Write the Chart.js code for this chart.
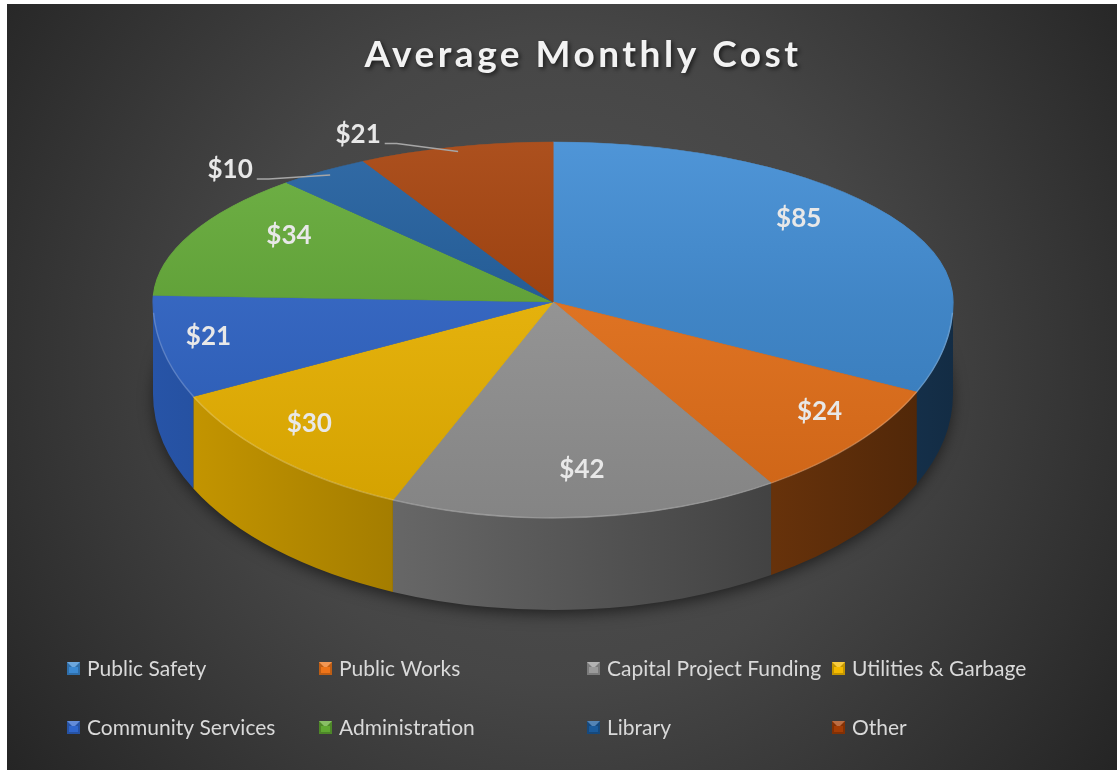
<!DOCTYPE html>
<html>
<head>
<meta charset="utf-8">
<title>Average Monthly Cost</title>
<script src="https://cdn.jsdelivr.net/npm/chart.js@4.4.1/dist/chart.umd.min.js"></script>
<style>
  html, body { margin: 0; padding: 0; background: #fff; }
  canvas { display: block; }
</style>
</head>
<body>
<canvas id="chart" width="1119" height="773"></canvas>
<script>
const chartTitle = "Average Monthly Cost";
const categories = ["Public Safety", "Public Works", "Capital Project Funding", "Utilities & Garbage",
  "Community Services", "Administration", "Library", "Other"];
const monthlyCost = [85, 24, 42, 30, 21, 34, 10, 21];
const sliceColors = ["#3b89d3", "#ee7419", "#9a9a9a", "#f5bb00", "#2f66cc", "#60a932", "#1b5b9c", "#a33c05"];

// where the tilted pie sits on the page
const PIE = { cx: 553, cy: 302, rx: 400, ryTop: 160, ryBottom: 216, depth: 92 };
const FONT = "Lato, 'Open Sans', sans-serif";

function shade(hex, f) {
  const n = parseInt(hex.slice(1), 16);
  const ch = [(n >> 16) & 255, (n >> 8) & 255, n & 255].map(c => {
    const v = f <= 1 ? c * f : c + (255 - c) * (f - 1);
    return Math.max(0, Math.min(255, Math.round(v)));
  });
  return `rgb(${ch[0]},${ch[1]},${ch[2]})`;
}

// top face colour: light at the back, a bit darker at the front
function topFill(c) {
  const col = sliceColors[c.dataIndex];
  const area = c.chart.chartArea;
  if (!area || col === undefined) return col || "#999";
  const cy = (area.top + area.bottom) / 2;
  const r = Math.min(area.right - area.left, area.bottom - area.top) / 2;
  const g = c.chart.ctx.createLinearGradient(0, cy - r, 0, cy + r);
  g.addColorStop(0, shade(col, 1.1));
  g.addColorStop(1, shade(col, 0.86));
  return g;
}

const pie3d = {
  id: "pie3d",
  beforeDraw(chart) {
    const { ctx, width, height } = chart;
    ctx.save();
    ctx.fillStyle = "#fff";
    ctx.fillRect(0, 0, width, height);
    const g = ctx.createRadialGradient(560, 360, 0, 560, 360, 720);
    g.addColorStop(0, "#525252");
    g.addColorStop(0.45, "#464646");
    g.addColorStop(1, "#222222");
    ctx.fillStyle = g;
    ctx.fillRect(7, 4, 1110, 766);
    ctx.restore();
  },
  beforeDatasetsDraw(chart) {
    const ctx = chart.ctx;
    const arcs = chart.getDatasetMeta(0).data;

    // soft shadow under the pie
    ctx.save();
    ctx.shadowColor = "rgba(0,0,0,0.6)";
    ctx.shadowBlur = 16;
    ctx.shadowOffsetY = 5;
    ctx.fillStyle = "#2c2c2c";
    ctx.beginPath();
    ctx.ellipse(PIE.cx, PIE.cy + PIE.depth, PIE.rx - 2, PIE.ryBottom - 2, 0, 0, Math.PI * 2);
    ctx.fill();
    ctx.restore();

    // side walls, only the front half shows
    arcs.forEach((arc, i) => {
      const s = Math.max(arc.startAngle, 0);
      const e = Math.min(arc.endAngle, Math.PI);
      if (e <= s) return;
      const col = sliceColors[i];
      const g = ctx.createLinearGradient(PIE.cx - PIE.rx, 0, PIE.cx + PIE.rx, 0);
      g.addColorStop(0, shade(col, 0.82));
      g.addColorStop(1, shade(col, 0.32));
      ctx.beginPath();
      ctx.ellipse(PIE.cx, PIE.cy, PIE.rx, PIE.ryBottom, 0, s, e);
      ctx.ellipse(PIE.cx, PIE.cy + PIE.depth, PIE.rx, PIE.ryBottom, 0, e, s, true);
      ctx.closePath();
      ctx.fillStyle = g;
      ctx.fill();
    });

    // top face: back half and front half squashed differently (fake perspective)
    const ref = arcs[0];
    const r = ref.outerRadius;
    [[0, PIE.cy, PIE.ryTop], [PIE.cy, chart.height - PIE.cy, PIE.ryBottom]].forEach(([y0, h, ry]) => {
      ctx.save();
      ctx.beginPath();
      ctx.rect(0, y0, chart.width, h);
      ctx.clip();
      ctx.translate(PIE.cx, PIE.cy);
      ctx.scale(PIE.rx / r, ry / r);
      ctx.translate(-ref.x, -ref.y);
      arcs.forEach(a => a.draw(ctx, chart.chartArea));
      ctx.restore();
    });

    // light rim on the front edge
    ctx.save();
    ctx.strokeStyle = "rgba(255,255,255,0.2)";
    ctx.lineWidth = 1.5;
    ctx.beginPath();
    ctx.ellipse(PIE.cx, PIE.cy, PIE.rx, PIE.ryBottom, 0, 0.05, Math.PI - 0.05);
    ctx.stroke();
    ctx.restore();
    return false;
  },
  afterDraw(chart) {
    const ctx = chart.ctx;
    const arcs = chart.getDatasetMeta(0).data;

    // title
    ctx.save();
    ctx.font = `bold 37px ${FONT}`;
    ctx.letterSpacing = "3.5px";
    ctx.textAlign = "center";
    ctx.textBaseline = "alphabetic";
    ctx.shadowColor = "rgba(0,0,0,0.6)";
    ctx.shadowBlur = 4;
    ctx.shadowOffsetX = 2;
    ctx.shadowOffsetY = 2;
    ctx.fillStyle = "#f2f2f2";
    ctx.fillText(chartTitle, 583, 67);
    ctx.restore();

    // data labels
    ctx.save();
    ctx.font = `bold 26px ${FONT}`;
    ctx.textAlign = "center";
    ctx.textBaseline = "middle";
    arcs.forEach((arc, i) => {
      const mid = (arc.startAngle + arc.endAngle) / 2;
      const cos = Math.cos(mid), sin = Math.sin(mid);
      const back = sin < 0;
      const ry = back ? PIE.ryTop : PIE.ryBottom;
      const text = "$" + monthlyCost[i];
      ctx.fillStyle = "#e8e8e8";
      if (sin < -0.75) {
        // thin slices at the back: label outside with a leader line
        const ax = PIE.cx + PIE.rx * 0.97 * cos;
        const ay = PIE.cy + ry * 0.97 * sin;
        const lx = ax - 100, ly = ay - 5 + 80 * (sin + 0.82);
        const w = ctx.measureText(text).width;
        ctx.fillText(text, lx, ly);
        ctx.strokeStyle = "#a6a6a6";
        ctx.lineWidth = 1.5;
        ctx.beginPath();
        ctx.moveTo(lx + w / 2 + 4, ly + 9);
        ctx.lineTo(lx + w / 2 + 16, ly + 9);
        ctx.lineTo(ax, ay);
        ctx.stroke();
      } else {
        const fx = back ? 0.73 : 0.88;
        const fy = back ? 0.97 : 0.78;
        ctx.fillText(text, PIE.cx + PIE.rx * fx * cos, PIE.cy + ry * fy * sin);
      }
    });
    ctx.restore();

    // legend in four columns
    const cols = [67, 319, 587, 832];
    const rows = [676, 735];
    ctx.save();
    ctx.font = `21px ${FONT}`;
    ctx.textBaseline = "alphabetic";
    categories.forEach((name, i) => {
      const x = cols[i % 4], base = rows[Math.floor(i / 4)];
      const y = base - 14, s = 13;
      const col = sliceColors[i];
      ctx.fillStyle = shade(col, 0.8);
      ctx.fillRect(x, y, s, s);
      ctx.fillStyle = shade(col, 1.25);
      ctx.beginPath();
      ctx.moveTo(x, y); ctx.lineTo(x + s, y); ctx.lineTo(x + s / 2, y + s / 2);
      ctx.closePath();
      ctx.fill();
      ctx.fillStyle = col;
      ctx.fillRect(x + 2, y + 5, s - 4, s - 7);
      ctx.fillStyle = "#d9d9d9";
      ctx.fillText(name, x + 20, base);
    });
    ctx.restore();
  }
};

new Chart(document.getElementById("chart"), {
  type: "pie",
  data: {
    labels: categories,
    datasets: [{
      data: monthlyCost,
      backgroundColor: topFill,
      borderColor: topFill,
      borderWidth: 1
    }]
  },
  options: {
    responsive: false,
    animation: false,
    events: [],
    layout: { padding: 20 },
    plugins: {
      legend: { display: false },
      title: { display: false },
      tooltip: { enabled: false }
    }
  },
  plugins: [pie3d]
});
</script>
</body>
</html>
